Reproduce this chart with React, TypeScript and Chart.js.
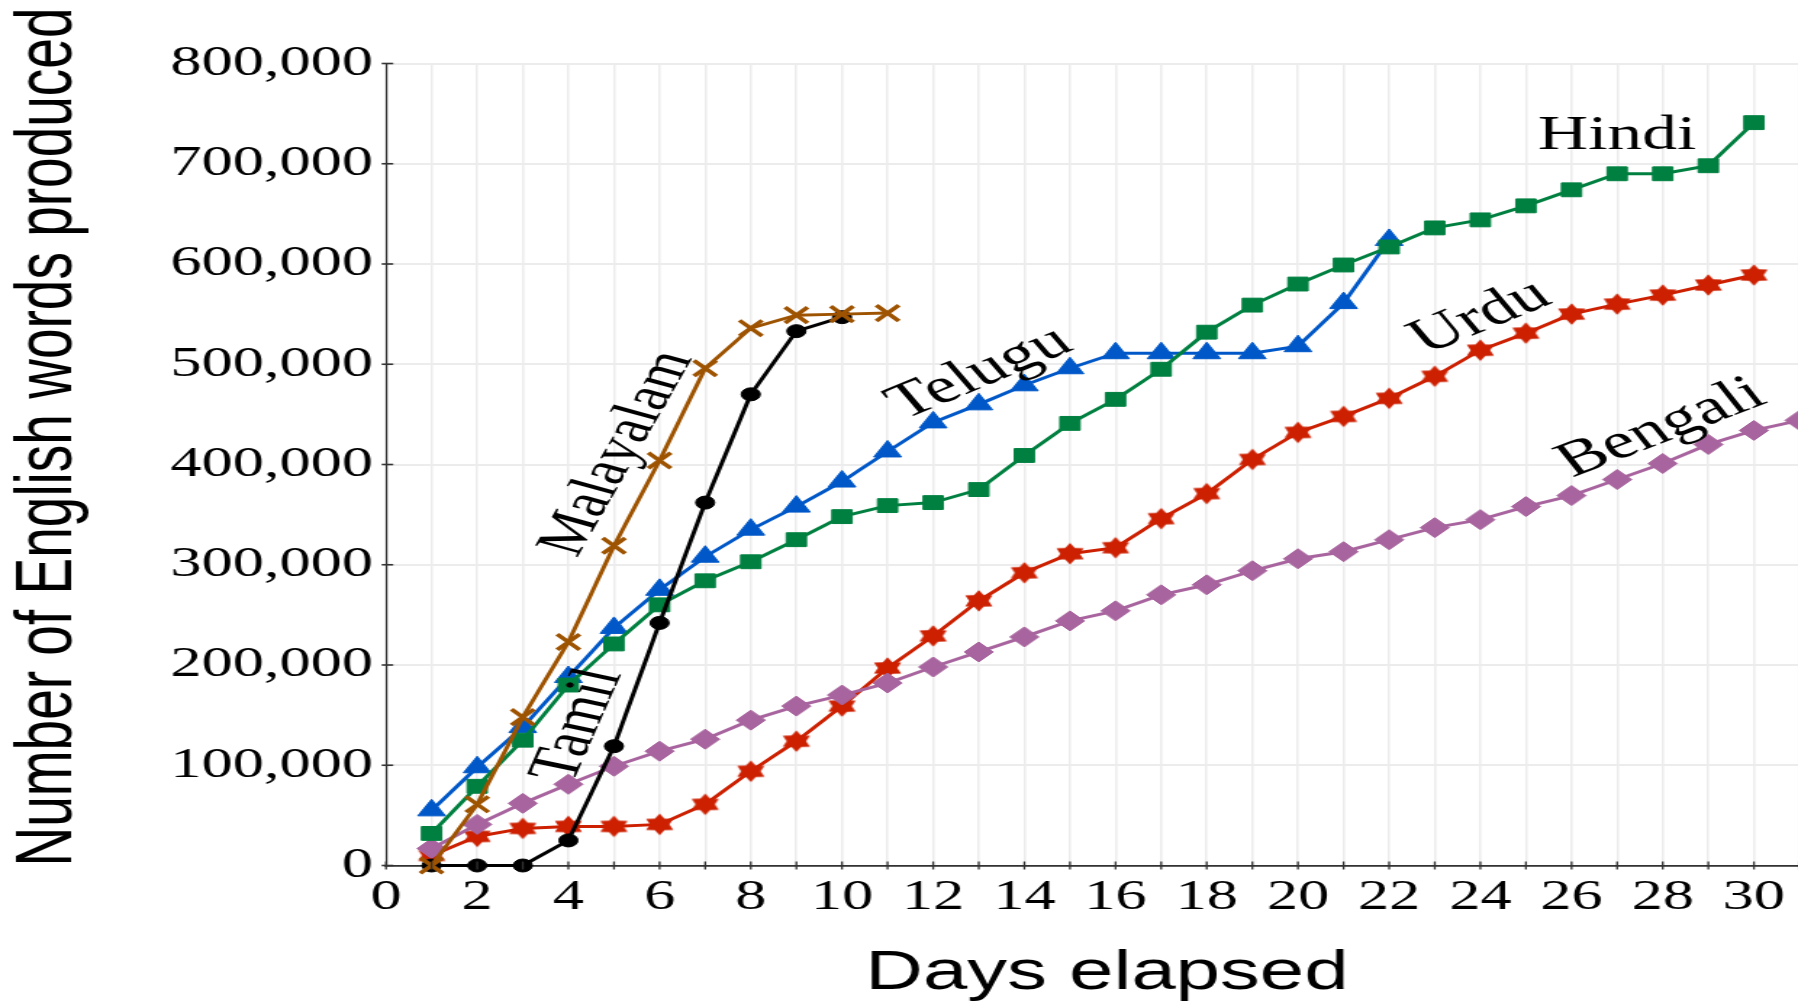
import React, { useEffect, useRef } from 'react';
import { Chart, registerables } from 'chart.js';

Chart.register(...registerables);

// ---------------- data ----------------
const days = [1, 2, 3, 4, 5, 6, 7, 8, 9, 10, 11, 12, 13, 14, 15, 16, 17, 18, 19, 20, 21, 22, 23, 24, 25, 26, 27, 28, 29, 30, 31];

const malayalam = [0, 61000, 148000, 223000, 319000, 404000, 496000, 536000, 549000, 550000, 551000];
const tamil = [0, 0, 0, 25000, 119000, 242000, 362000, 470000, 533000, 547000];
const hindi = [32000, 79000, 125000, 180000, 221000, 260000, 284000, 303000, 325000, 348000, 359000, 362000, 375000, 409000, 441000, 465000, 495000, 532000, 559000, 580000, 599000, 617000, 636000, 644000, 658000, 674000, 690000, 690000, 698000, 741000];
const telugu = [55000, 98000, 138000, 188000, 237000, 275000, 308000, 335000, 358000, 383000, 413000, 442000, 460000, 479000, 496000, 511000, 511000, 511000, 511000, 518000, 561000, 624000];
const bengali = [17000, 41000, 62000, 81000, 99000, 114000, 126000, 145000, 159000, 170000, 182000, 198000, 213000, 228000, 244000, 254000, 270000, 280000, 294000, 306000, 313000, 325000, 337000, 345000, 358000, 369000, 385000, 401000, 420000, 434000, 444000];
const urdu = [10000, 29000, 37000, 39000, 39000, 41000, 61000, 94000, 124000, 159000, 197000, 229000, 264000, 292000, 311000, 317000, 346000, 371000, 405000, 432000, 448000, 466000, 488000, 514000, 531000, 550000, 560000, 569000, 579000, 589000];

const X_MIN = 0;
const X_MAX = 32;
const X_STEP = 1;
const Y_MIN = 0;
const Y_MAX = 800000;
const Y_STEP = 100000;

const xTitle = 'Days elapsed';
const yTitle = 'Number of English words produced';

// series labels drawn on the plot (anchor in data units, visible angle in degrees)
const seriesLabels = [
  { text: 'Malayalam', day: 5.08, value: 411000, angle: 60 },
  { text: 'Tamil', day: 4.22, value: 140000, angle: 66 },
  { text: 'Telugu', day: 13.02, value: 491000, angle: 22.5 },
  { text: 'Hindi', day: 27.0, value: 727000, angle: 0 },
  { text: 'Urdu', day: 24.0, value: 547000, angle: 22 },
  { text: 'Bengali', day: 27.97, value: 436000, angle: 21 },
];

// ---------------- layout / style ----------------
const STRETCH = 1.45; // the reference is stretched horizontally
const VIEW_W = 1798;
const VIEW_H = 1002;
const CANVAS_W = 1300;
const CHART_LEFT = 266.2;
const CHART_RIGHT = 1272.6;
const CHART_TOP = 63.5;
const CHART_BOTTOM = 865.5;

const BROWN = '#9e5300';
const BLACK = '#000000';
const GREEN = '#008040';
const BLUE = '#0058c8';
const PURPLE = '#a8649e';
const RED = '#cc2000';

const SERIF = '"Liberation Serif", "Times New Roman", serif';
const SANS = '"Liberation Sans", Arial, sans-serif';

function pts(vals: number[]) {
  return vals.map((v, i) => ({ x: days[i], y: v }));
}

function makeStar(color: string) {
  const size = 26;
  const c = document.createElement('canvas');
  c.width = size;
  c.height = size;
  const ctx = c.getContext('2d')!;
  const R = 10.8;
  const r = R * 0.62;
  ctx.beginPath();
  for (let i = 0; i < 12; i++) {
    const a = -Math.PI / 2 + (i * Math.PI) / 6;
    const rad = i % 2 === 0 ? R : r;
    const px = size / 2 + rad * Math.cos(a);
    const py = size / 2 + rad * Math.sin(a);
    if (i === 0) ctx.moveTo(px, py);
    else ctx.lineTo(px, py);
  }
  ctx.closePath();
  ctx.fillStyle = color;
  ctx.fill();
  return c;
}

const decorPlugin = {
  id: 'decor',
  afterDatasetsDraw(chart: any) {
    const { ctx } = chart;
    const xs = chart.scales.x;
    const ys = chart.scales.y;
    ctx.save();
    ctx.fillStyle = '#000';
    ctx.textAlign = 'center';
    ctx.textBaseline = 'middle';
    for (const l of seriesLabels) {
      const px = xs.getPixelForValue(l.day);
      const py = ys.getPixelForValue(l.value);
      const ts = Math.tan((l.angle * Math.PI) / 180);
      const tu = Math.atan(STRETCH * ts);
      ctx.save();
      ctx.translate(px, py);
      ctx.rotate(-tu);
      ctx.font = `${l.text === 'Hindi' ? 48 : l.text === 'Malayalam' ? 48 : 50}px ${SERIF}`;
      ctx.fillText(l.text, 0, 0);
      ctx.restore();
    }
    ctx.restore();
  },
  afterDraw(chart: any) {
    const { ctx, chartArea } = chart;
    const xs = chart.scales.x;
    const ys = chart.scales.y;
    ctx.save();
    ctx.strokeStyle = '#333';
    ctx.lineWidth = 1.3;
    for (const t of xs.ticks) {
      const px = xs.getPixelForValue(t.value);
      ctx.beginPath();
      ctx.moveTo(px, chartArea.bottom - 4);
      ctx.lineTo(px, chartArea.bottom + 4);
      ctx.stroke();
    }
    ctx.lineWidth = 1.6;
    for (const t of ys.ticks) {
      const py = ys.getPixelForValue(t.value);
      ctx.beginPath();
      ctx.moveTo(chartArea.left - 3, py);
      ctx.lineTo(chartArea.left + 5, py);
      ctx.stroke();
    }
    ctx.fillStyle = '#000';
    ctx.textAlign = 'center';
    ctx.textBaseline = 'middle';
    ctx.font = `55px ${SANS}`;
    ctx.fillText(xTitle, chartArea.left + 497.2, chartArea.bottom + 108.5);
    ctx.save();
    ctx.translate(chartArea.left - 232.8, chartArea.top + 373.5);
    ctx.rotate(-Math.PI / 2);
    ctx.font = `55px ${SANS}`;
    ctx.fillText(yTitle, 0, 0);
    ctx.restore();
    ctx.restore();
  },
};

export default function App() {
  const ref = useRef<HTMLCanvasElement>(null);

  useEffect(() => {
    const star = makeStar(RED);
    const common = { borderWidth: 3, tension: 0, clip: false as const, fill: false };
    const chart = new Chart(ref.current!, {
      type: 'line',
      data: {
        datasets: [
          { ...common, label: 'Malayalam', data: pts(malayalam), borderColor: BROWN, backgroundColor: BROWN, pointStyle: 'crossRot', pointRadius: 11, pointBorderWidth: 3.5, pointBorderColor: BROWN },
          { ...common, label: 'Tamil', data: pts(tamil), borderColor: BLACK, backgroundColor: BLACK, pointStyle: 'circle', pointRadius: 6.5, pointBorderWidth: 1, pointBorderColor: BLACK },
          { ...common, label: 'Hindi', data: pts(hindi), borderColor: GREEN, backgroundColor: GREEN, pointStyle: 'rect', pointRadius: 9.8, pointBorderWidth: 1, pointBorderColor: GREEN },
          { ...common, label: 'Telugu', data: pts(telugu), borderColor: BLUE, backgroundColor: BLUE, pointStyle: 'triangle', pointRadius: 11, pointBorderWidth: 1, pointBorderColor: BLUE },
          { ...common, label: 'Bengali', data: pts(bengali), borderColor: PURPLE, backgroundColor: PURPLE, pointStyle: 'rectRot', pointRadius: 10, pointBorderWidth: 1, pointBorderColor: PURPLE },
          { ...common, label: 'Urdu', data: pts(urdu), borderColor: RED, backgroundColor: RED, pointStyle: star as any, pointRadius: 10 },
        ],
      },
      options: {
        responsive: true,
        maintainAspectRatio: false,
        animation: false,
        devicePixelRatio: 1,
        events: [],
        layout: { padding: { top: CHART_TOP, left: 0, bottom: 0, right: CANVAS_W - CHART_RIGHT } },
        plugins: { legend: { display: false }, tooltip: { enabled: false }, title: { display: false } },
        scales: {
          x: {
            type: 'linear',
            min: X_MIN,
            max: X_MAX,
            afterFit: (s: any) => { s.height = VIEW_H - CHART_BOTTOM; },
            grid: { color: '#ececec', lineWidth: 1.5, drawTicks: false },
            border: { display: true, color: '#333', width: 1.7 },
            ticks: {
              stepSize: X_STEP,
              autoSkip: false,
              maxRotation: 0,
              padding: 6,
              color: '#000',
              font: { family: SERIF, size: 43 },
              callback: (v: any) => (Number(v) % 2 === 0 ? String(v) : ''),
            },
          },
          y: {
            type: 'linear',
            min: Y_MIN,
            max: Y_MAX,
            afterFit: (s: any) => { s.width = CHART_LEFT; },
            grid: { color: '#ececec', lineWidth: 2, drawTicks: false },
            border: { display: true, color: '#333', width: 1.2 },
            ticks: {
              stepSize: Y_STEP,
              padding: 9,
              color: '#000',
              font: { family: SERIF, size: 43 },
              callback: (v: any) => Number(v).toLocaleString('en-US'),
            },
          },
        },
      },
      plugins: [decorPlugin],
    } as any);
    return () => chart.destroy();
  }, []);

  return (
    <div style={{ position: 'fixed', left: 0, top: 0, width: VIEW_W, height: VIEW_H, overflow: 'hidden', background: '#fff' }}>
      <div
        style={{
          position: 'absolute',
          left: 0,
          top: 0,
          width: CANVAS_W,
          height: VIEW_H,
          transform: `scaleX(${STRETCH})`,
          transformOrigin: '0 0',
        }}
      >
        <canvas ref={ref} style={{ display: 'block' }} />
      </div>
    </div>
  );
}
